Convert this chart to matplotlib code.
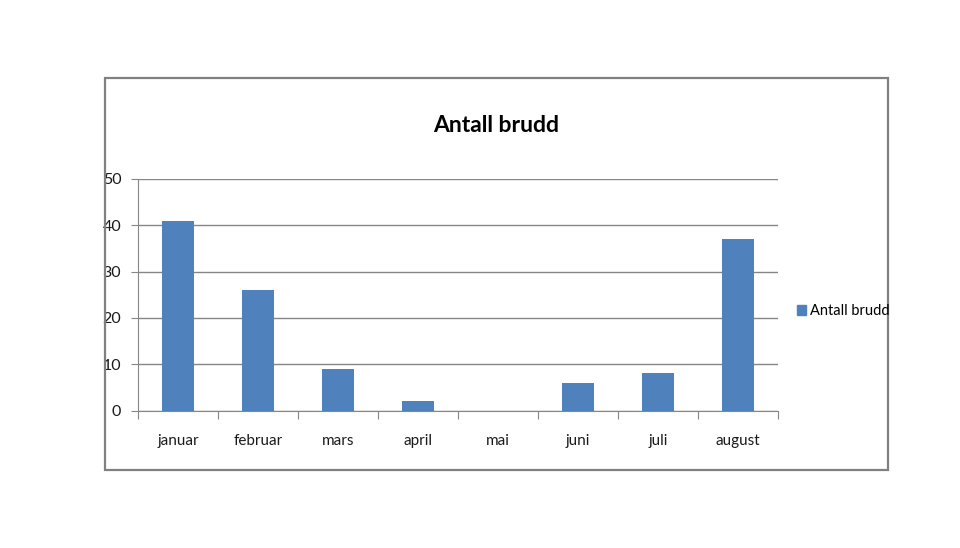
import matplotlib
matplotlib.use("Agg")
import matplotlib.pyplot as plt
from matplotlib.patches import Rectangle, Patch
import numpy as np

plt.rcParams['font.family'] = ['Lato', 'DejaVu Sans']

months = ["januar", "februar", "mars", "april", "mai", "juni", "juli", "august"]
values = [41, 26, 9, 2, 0, 6, 8, 37]
series_name = "Antall brudd"
yticks = [0, 10, 20, 30, 40, 50]

fig = plt.figure(figsize=(9.6, 5.48), dpi=100)
fig.patch.set_facecolor("white")

# outer chart frame
fig.patches.append(Rectangle((105/960, 1-470/548), (888-105)/960, (470-78)/548,
                             transform=fig.transFigure, fill=False,
                             edgecolor="#808080", linewidth=1.6))

ax = fig.add_axes([138/960, 1-410.5/548, (778-138)/960, (410.5-179)/548])
x = np.arange(len(months))
ax.bar(x, values, width=0.39, color="#4F81BD", zorder=3, label=series_name)
ax.set_xlim(-0.5, len(months)-0.5)
ax.set_ylim(0, 50)
ax.set_yticks(yticks)
ax.set_yticklabels([str(v) for v in yticks], fontsize=11.5, color="#1a1a1a")
ax.yaxis.grid(True, color="#868686", linewidth=1.0, zorder=0)
ax.set_xticks(np.arange(-0.5, len(months)), minor=False)
ax.set_xticklabels([])
ax.set_xticks(x, minor=True)
ax.set_xticklabels(months, minor=True, fontsize=11, color="#1a1a1a")
ax.tick_params(axis='x', which='minor', length=0, pad=17)
ax.tick_params(axis='x', which='major', length=6, color="#868686", direction='out')
ax.tick_params(axis='y', length=5, color="#868686", pad=7)
for s in ["top", "right"]:
    ax.spines[s].set_visible(False)
for s in ["left", "bottom"]:
    ax.spines[s].set_color("#868686")
ax.set_facecolor("none")

fig.text(496/960, 1-126/548, "Antall brudd", ha="center", va="center",
         fontsize=16.5, fontweight="bold")

fig.legend(handles=[Patch(color="#4F81BD", label=series_name)],
           loc="center left", bbox_to_anchor=(797/960, 1-311/548),
           frameon=False, fontsize=10.5, handlelength=0.6, handleheight=0.75,
           handletextpad=0.3, borderpad=0, borderaxespad=0)

fig.savefig("out.png", dpi=100)
